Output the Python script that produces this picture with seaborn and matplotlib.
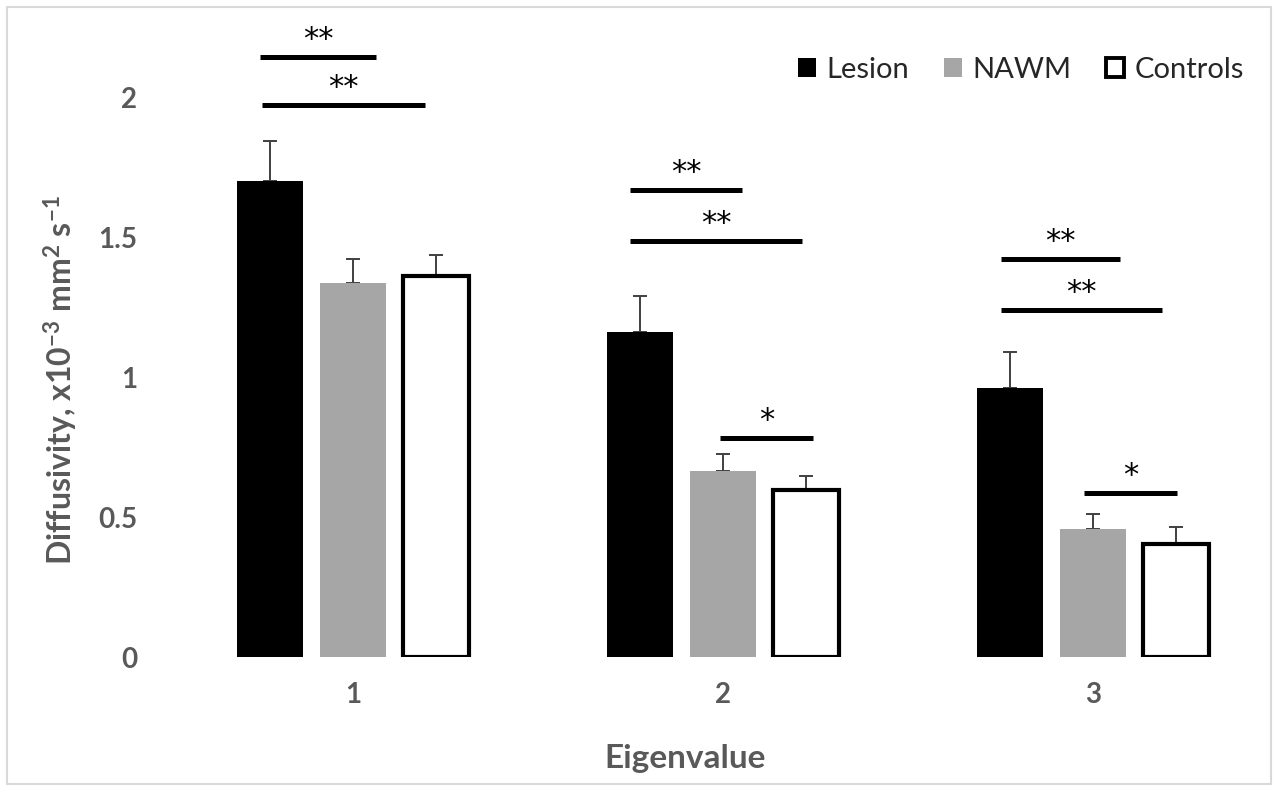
import matplotlib
matplotlib.use("Agg")
import matplotlib.pyplot as plt
import seaborn as sns
import pandas as pd
import numpy as np
from matplotlib.patches import Patch, Rectangle

# ---------------- data ----------------
categories = ["1", "2", "3"]
groups = ["Lesion", "NAWM", "Controls"]
lesion_mean = [1.700, 1.162, 0.962]
lesion_err = [0.143, 0.128, 0.126]
nawm_mean = [1.336, 0.665, 0.457]
nawm_err = [0.086, 0.060, 0.054]
controls_mean = [1.361, 0.596, 0.404]
controls_err = [0.076, 0.050, 0.059]
y_ticks = [0, 0.5, 1, 1.5, 2]
y_tick_labels = ["0", "0.5", "1", "1.5", "2"]

# significance brackets: (category index, start offset, end offset, height, label)
brackets = [
    (0, -0.251, 0.062, 2.143, "**"),
    (0, -0.246, 0.195, 1.971, "**"),
    (1, -0.251, 0.051, 1.668, "**"),
    (1, -0.251, 0.214, 1.486, "**"),
    (1, -0.008, 0.243, 0.782, "*"),
    (2, -0.249, 0.073, 1.421, "**"),
    (2, -0.249, 0.186, 1.239, "**"),
    (2, -0.024, 0.227, 0.586, "*"),
]

means = {"Lesion": lesion_mean, "NAWM": nawm_mean, "Controls": controls_mean}
errs = {"Lesion": lesion_err, "NAWM": nawm_err, "Controls": controls_err}
df = pd.DataFrame(
    [(c, g, means[g][i]) for g in groups for i, c in enumerate(categories)],
    columns=["Eigenvalue", "Group", "Diffusivity"],
)

# ---------------- style ----------------
sns.set_theme(style="white")
plt.rcParams["font.family"] = ["Lato", "DejaVu Sans"]
plt.rcParams["mathtext.default"] = "regular"

GRAY_TXT = "#595959"
colors = {"Lesion": "#000000", "NAWM": "#a6a6a6", "Controls": "#ffffff"}

fig = plt.figure(figsize=(12.78, 7.91), dpi=100)
ax = fig.add_axes([150 / 1278, (791 - 657) / 791, (1265 - 150) / 1278, (657 - 41) / 791])

sns.barplot(
    data=df, x="Eigenvalue", y="Diffusivity", hue="Group",
    hue_order=groups, order=categories, palette=colors,
    width=0.672, gap=0.2, errorbar=None, legend=False, ax=ax, zorder=3,
)

for g, cont in zip(groups, ax.containers):
    xs = []
    for p in cont.patches:
        if g == "Controls":
            p.set_edgecolor("black")
            p.set_linewidth(3.0)
        else:
            p.set_edgecolor("none")
            p.set_linewidth(0)
        xs.append(p.get_x() + p.get_width() / 2)
    ax.errorbar(
        xs, means[g], yerr=[np.zeros(len(xs)), errs[g]], fmt="none",
        ecolor="#404040", elinewidth=1.4, capsize=5, capthick=1.4, zorder=2,
    )

# significance brackets
for ci, x0, x1, yv, lab in brackets:
    ax.plot([ci + x0, ci + x1], [yv, yv], color="black", lw=3.6,
            solid_capstyle="butt", zorder=4)
    ax.annotate(lab, xy=(ci + (x0 + x1) / 2, yv), xytext=(0, 6.5),
                textcoords="offset points", ha="center", va="baseline",
                fontsize=22, color="black", family="DejaVu Sans")

ax.set_xlim(-0.5486, 2.4649)
ax.set_ylim(0, 2.2)
ax.set_yticks(y_ticks)
ax.set_yticklabels(y_tick_labels)
ax.tick_params(axis="y", length=0, pad=9, labelsize=20, labelcolor=GRAY_TXT)
ax.tick_params(axis="x", length=0, pad=18, labelsize=20, labelcolor=GRAY_TXT)
for lab in ax.get_xticklabels() + ax.get_yticklabels():
    lab.set_fontweight("bold")
for s in ax.spines.values():
    s.set_visible(False)
ax.grid(False)

ax.set_xlabel("Eigenvalue", fontsize=24, fontweight="bold", color=GRAY_TXT, va="center")
ax.xaxis.set_label_coords(0.48, -0.164)
ax.set_ylabel("Diffusivity, x10$^{-3}$ mm$^{2}$ s$^{-1}$", fontsize=23,
              fontweight="bold", color=GRAY_TXT, va="center")
ax.yaxis.set_label_coords(-0.08, 0.45)

handles = [
    Patch(facecolor="#000000", edgecolor="none", label="Lesion"),
    Patch(facecolor="#a6a6a6", edgecolor="none", label="NAWM"),
    Patch(facecolor="#ffffff", edgecolor="black", linewidth=2.8, label="Controls"),
]
fig.legend(
    handles=handles, ncol=3, frameon=False, loc="center",
    bbox_to_anchor=(1021 / 1278, (791 - 70) / 791), fontsize=21,
    handlelength=0.62, handleheight=0.62, handletextpad=0.35,
    columnspacing=1.2, labelcolor="#262626",
)

# light gray figure frame
fig.patches.append(Rectangle((7 / 1278, 7 / 791), 1 - 14 / 1278, 1 - 14 / 791,
                             transform=fig.transFigure, fill=False,
                             edgecolor="#d9d9d9", linewidth=1.5))

fig.savefig("out.png", dpi=100)
